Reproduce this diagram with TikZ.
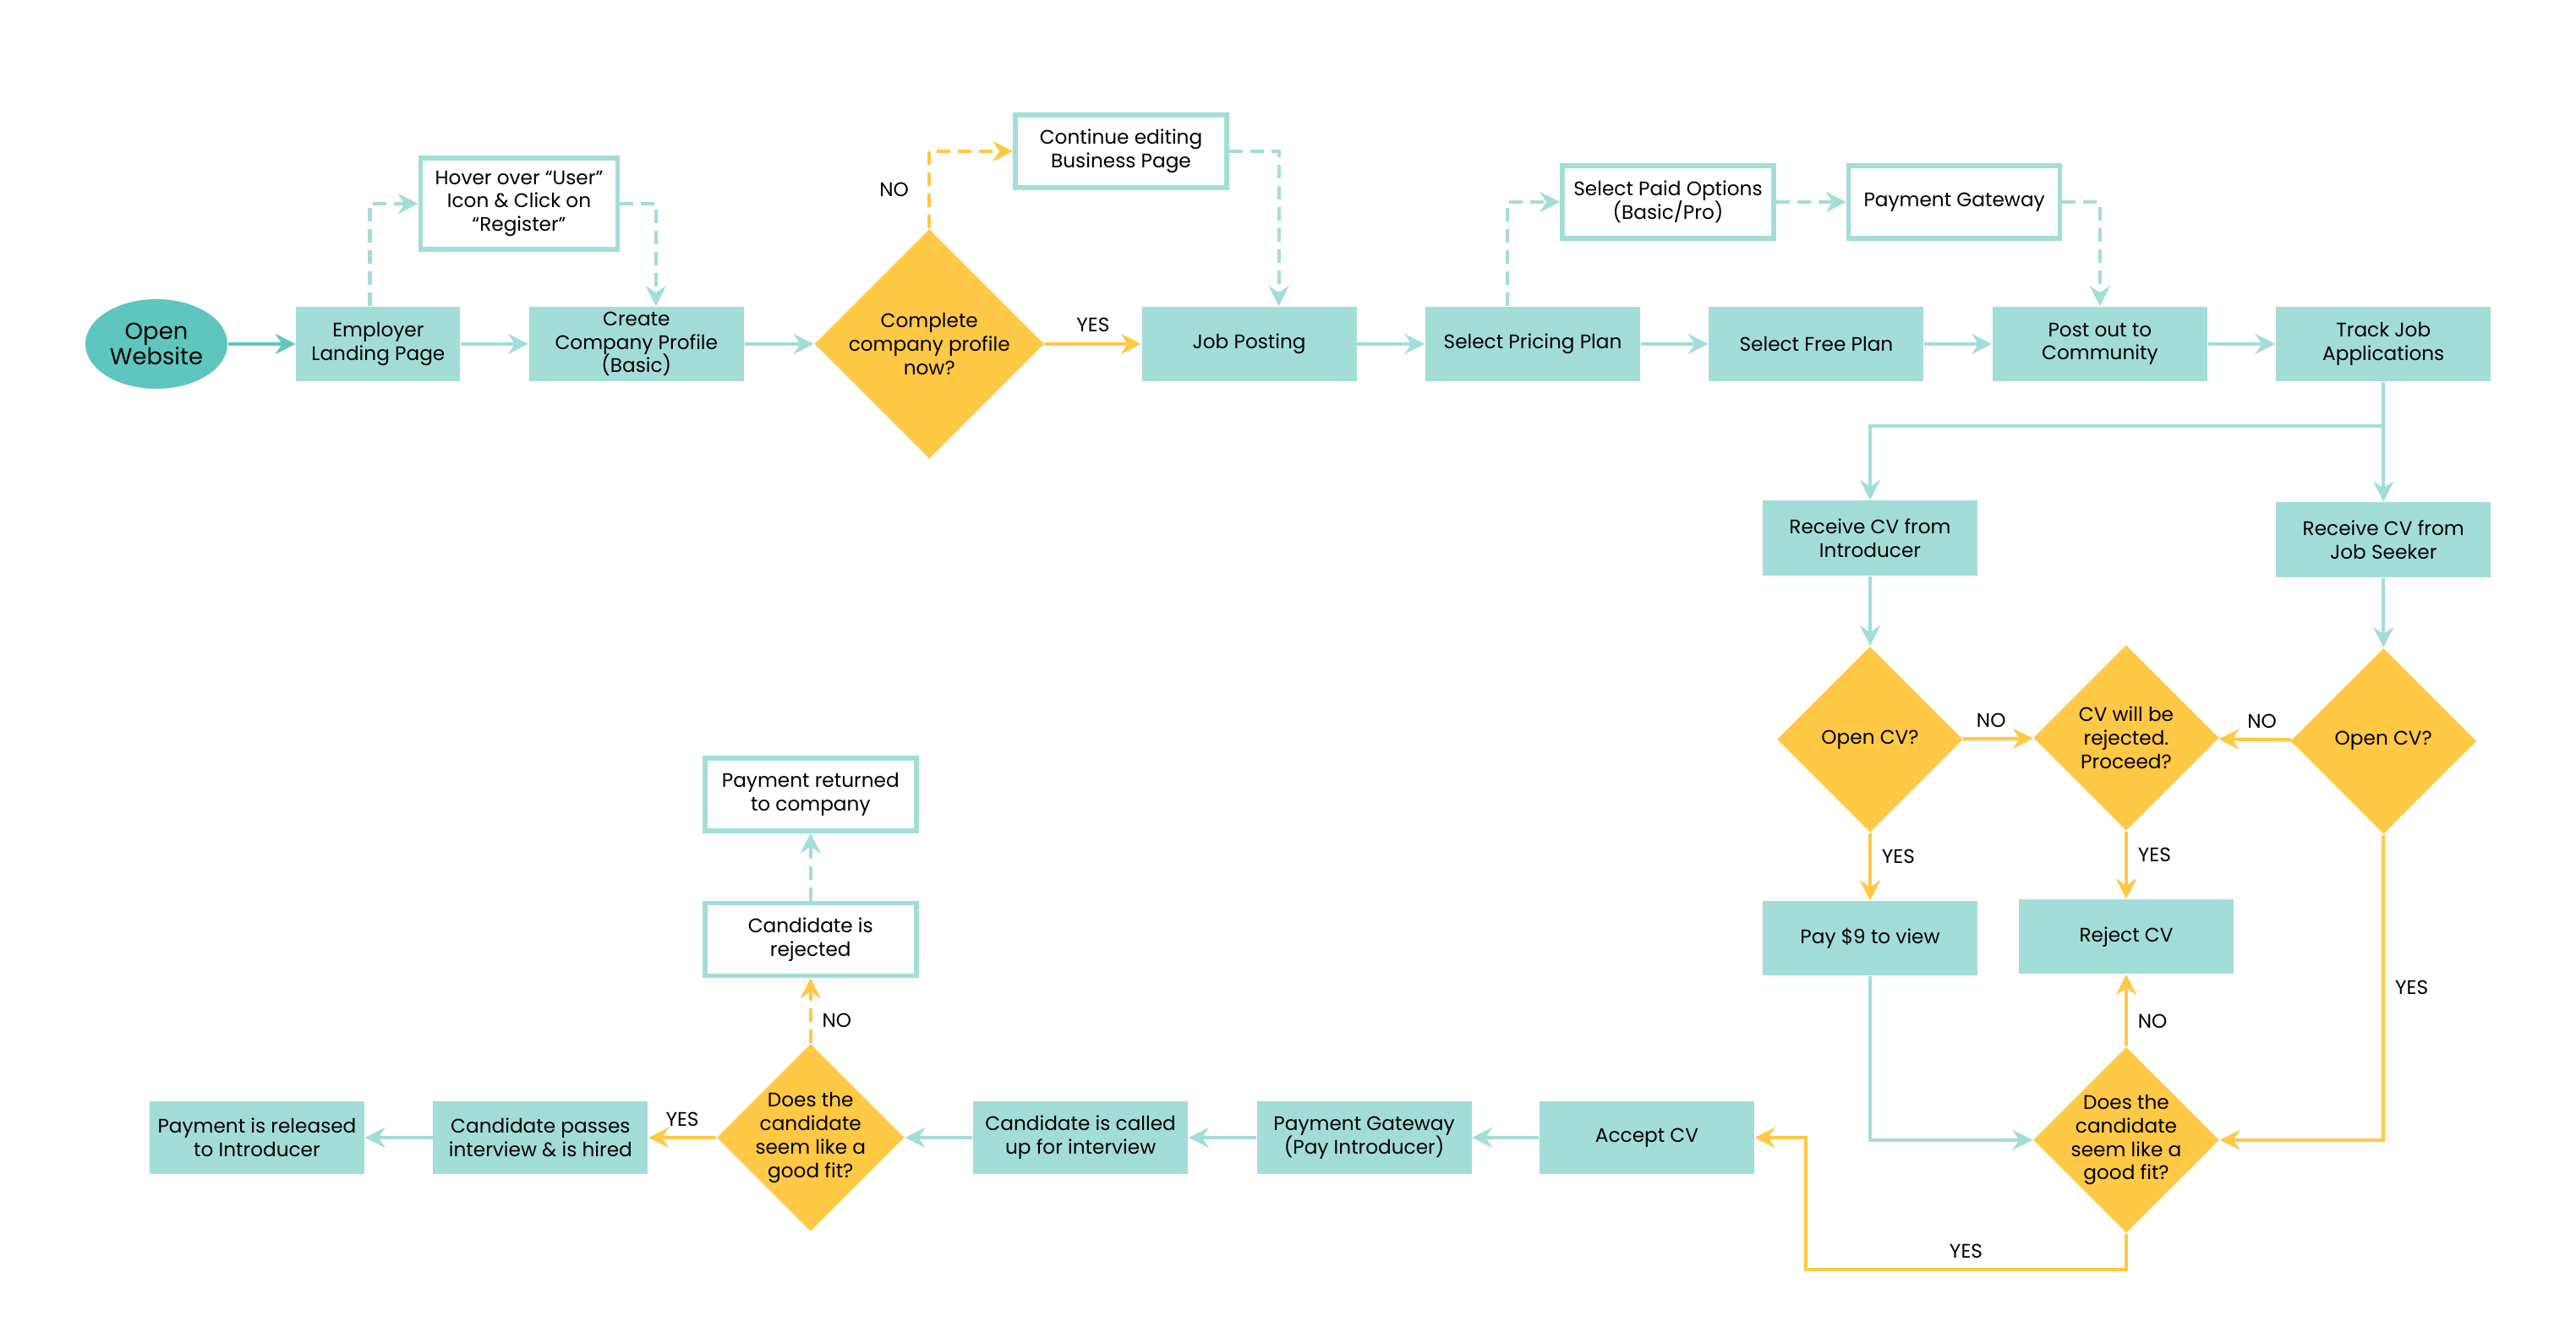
\documentclass[tikz,border=0pt]{standalone}
\usepackage{fontspec}
\setmainfont{Poppins}
\usetikzlibrary{positioning}
\usetikzlibrary{shapes.geometric}
\usetikzlibrary{arrows.meta}
\definecolor{tealbox}{HTML}{A3DDD8}
\definecolor{tealdark}{HTML}{5EC6BE}
\definecolor{amber}{HTML}{FFC845}
\newcommand{\flowfont}{\fontsize{6.6}{7.9}\selectfont\lineskiplimit=-6pt\relax}

\begin{document}
\begin{tikzpicture}[
	font=\flowfont,
	box/.style={rectangle,fill=tealbox,align=center,minimum width=2.54cm,minimum height=0.88cm,inner sep=1pt},
	hollow/.style={rectangle,draw=tealbox,line width=1.6pt,fill=white,align=center,minimum width=2.5cm,minimum height=0.86cm,inner sep=1pt},
	decision/.style={diamond,fill=amber,align=center,aspect=1,minimum width=2.2cm,minimum height=2.2cm,inner sep=-4pt},
	flow/.style={draw=tealbox,line width=1.2pt,-{Stealth[length=0.24cm,width=0.24cm,inset=0.08cm]}},
	yflow/.style={flow,draw=amber},
	dashflow/.style={flow,dash pattern=on 0.16cm off 0.09cm},
	ydashflow/.style={yflow,dash pattern=on 0.16cm off 0.09cm}
	]
	\useasboundingbox (0,0) rectangle (30.47,-15.89);

	% top row
	\node [ellipse,fill=tealdark,align=center,inner sep=0pt,minimum width=1.68cm,minimum height=1.06cm,font=\fontsize{7.8}{8.8}\selectfont] (open) at (1.85,-4.07) {Open\\Website};
	\node [box,minimum width=1.94cm] (employer)	[right=0.80cm of open]		{Employer\\Landing Page};
	\node [box] (profile)		[right=0.80cm of employer]	{Create\\Company Profile\\(Basic)};
	\node [decision,minimum width=2.72cm,minimum height=2.72cm] (complete) [right=0.82cm of profile] {Complete\\company profile\\now?};
	\node [box] (posting)		[right=1.14cm of complete]	{Job Posting};
	\node [box] (pricing)		[right=0.80cm of posting]	{Select Pricing Plan};
	\node [box] (free)		[right=0.80cm of pricing]	{Select Free Plan};
	\node [box] (community)		[right=0.80cm of free]		{Post out to\\Community};
	\node [box] (track)		[right=0.80cm of community]	{Track Job\\Applications};

	% side steps above the top row
	\node [hollow,minimum width=2.33cm,minimum height=1.08cm] (hover) at (6.14,-2.41) {Hover over “User”\\Icon \& Click on\\“Register”};
	\node [hollow] (editing) at (13.26,-1.79)	{Continue editing\\Business Page};
	\node [hollow] (paid) at (19.73,-2.39)		{Select Paid Options\\(Basic/Pro)};
	\node [hollow] (gateway)	[right=0.83cm of paid]	{Payment Gateway};

	% CV handling
	\node [box,minimum height=0.89cm] (fromintro) at (22.12,-6.37) {Receive CV from\\Introducer};
	\node [box,minimum height=0.89cm] (fromseeker)	[below=1.42cm of track]	{Receive CV from\\Job Seeker};
	\node [decision] (openintro)	[below=0.82cm of fromintro]	{Open CV?};
	\node [decision] (openseeker)	[below=0.82cm of fromseeker]	{Open CV?};
	\node [decision] (proceed) at (25.15,-8.73)	{CV will be\\rejected.\\Proceed?};
	\node [box] (payview)		[below=0.80cm of openintro]	{Pay \$9 to view};
	\node [box] (reject)		[below=0.80cm of proceed]	{Reject CV};
	\node [decision] (fit)		[below=0.85cm of reject]	{Does the\\candidate\\seem like a\\good fit?};

	% bottom row
	\node [box,minimum height=0.86cm] (accept) at (19.48,-13.46) {Accept CV};
	\node [box,minimum height=0.86cm] (paygate)	[left=0.79cm of accept]		{Payment Gateway\\(Pay Introducer)};
	\node [box,minimum height=0.86cm] (called)	[left=0.80cm of paygate]	{Candidate is called\\up for interview};
	\node [decision,minimum width=2.22cm,minimum height=2.22cm] (goodfit) [left=0.80cm of called] {Does the\\candidate\\seem like a\\good fit?};
	\node [box,minimum height=0.86cm] (hired)	[left=0.80cm of goodfit]	{Candidate passes\\interview \& is hired};
	\node [box,minimum height=0.86cm] (released)	[left=0.80cm of hired]		{Payment is released\\to Introducer};
	\node [hollow] (rejected)	[above=0.77cm of goodfit]	{Candidate is\\rejected};
	\node [hollow] (returned)	[above=0.80cm of rejected]	{Payment returned\\to company};

	\coordinate (split) at ([yshift=-0.52cm]track.south);
	\coordinate (loop) at (21.36,-15.02);

	\draw [flow,draw=tealdark] (open) -- (employer);
	\draw [flow] (employer) -- (profile);
	\draw [flow] (profile) -- (complete);
	\draw [yflow] (complete) -- node [above] {YES} (posting);
	\draw [flow] (posting) -- (pricing);
	\draw [flow] (pricing) -- (free);
	\draw [flow] (free) -- (community);
	\draw [flow] (community) -- (track);

	\draw [dashflow] ([xshift=-0.1cm]employer.north) |- (hover.west);
	\draw [dashflow] (hover.east) -| ([xshift=0.23cm]profile.north);
	\draw [ydashflow] (complete.north) |- node [pos=0.25,left=3pt] {NO} (editing.west);
	\draw [dashflow] (editing.east) -| ([xshift=0.35cm]posting.north);
	\draw [dashflow] ([xshift=-0.3cm]pricing.north) |- (paid.west);
	\draw [dashflow] (paid) -- (gateway);
	\draw [dashflow] (gateway.east) -| (community.north);

	\draw [flow] (track) -- (fromseeker);
	\draw [flow] (split) -| (fromintro);
	\draw [flow] (fromintro) -- (openintro);
	\draw [flow] (fromseeker) -- (openseeker);
	\draw [yflow] (openintro) -- node [above,pos=0.4] {NO} (proceed);
	\draw [yflow] (openseeker) -- node [above,pos=0.4] {NO} (proceed);
	\draw [yflow] (openintro) -- node [right,pos=0.35] {YES} (payview);
	\draw [yflow] (proceed) -- node [right,pos=0.35] {YES} (reject);
	\draw [yflow] (openseeker.south) |- node [right,pos=0.25] {YES} (fit.east);
	\draw [flow] (payview) |- (fit.west);
	\draw [yflow] (fit) -- node [right,pos=0.35] {NO} (reject);
	\draw [yflow] (fit.south) |- node [above,pos=0.75] {YES} (loop) |- (accept.east);

	\draw [flow] (accept) -- (paygate);
	\draw [flow] (paygate) -- (called);
	\draw [flow] (called) -- (goodfit);
	\draw [yflow] (goodfit) -- node [above] {YES} (hired);
	\draw [flow] (hired) -- (released);
	\draw [ydashflow] (goodfit) -- node [right,pos=0.35] {NO} (rejected);
	\draw [dashflow] (rejected) -- (returned);

\end{tikzpicture}
\end{document}
